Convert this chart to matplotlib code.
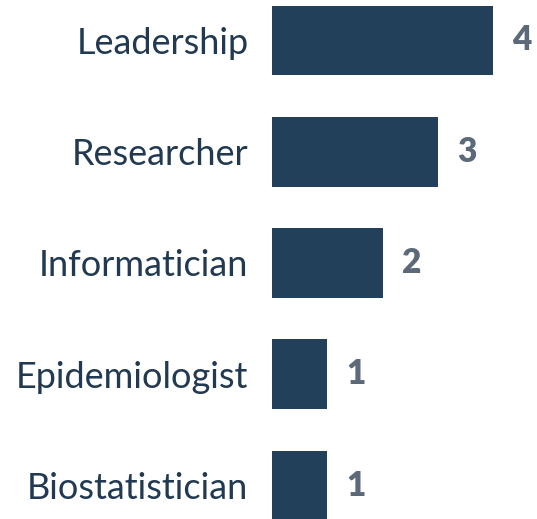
import matplotlib.pyplot as plt

roles = ["Leadership", "Researcher", "Informatician", "Epidemiologist", "Biostatistician"]
counts = [4, 3, 2, 1, 1]

bar_color = "#22405a"
label_color = "#213a52"
value_color = "#5b6978"

plt.rcParams['font.family'] = ['Lato', 'DejaVu Sans']

fig = plt.figure(figsize=(5.37, 5.19), dpi=100)
# axes placed so the bars start at x=272px
ax = fig.add_axes([272 / 537, 0, 262 / 537, 1])

ypos = list(range(len(roles)))
ax.barh(ypos, counts, height=0.625, color=bar_color)

ax.set_xlim(0, 262 / 55.25)
ax.set_ylim((519 - 40.5) / 111.25, -40.5 / 111.25)

ax.set_yticks(ypos)
ax.set_yticklabels(roles, fontsize=26, color=label_color)
ax.tick_params(axis='y', length=0, pad=17)
ax.set_xticks([])
for s in ax.spines.values():
    s.set_visible(False)

for y, c in zip(ypos, counts):
    ax.annotate(str(c), (c, y), xytext=(14, 0), textcoords='offset points',
                ha='left', va='center', fontsize=24, fontweight='heavy', color=value_color)

fig.savefig("out.png", dpi=100)
